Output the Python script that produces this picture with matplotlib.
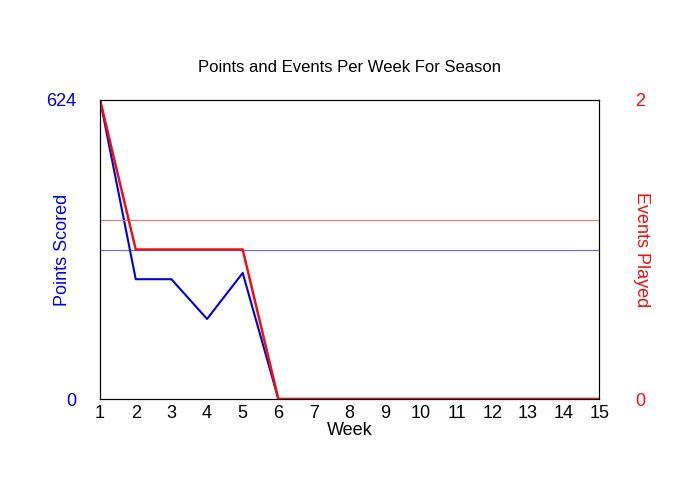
import matplotlib
matplotlib.use("Agg")
import matplotlib.pyplot as plt

weeks = list(range(1, 16))
points = [624, 250, 250, 167, 263, 0, 0, 0, 0, 0, 0, 0, 0, 0, 0]
events = [2, 1, 1, 1, 1, 0, 0, 0, 0, 0, 0, 0, 0, 0, 0]
points_avg = 311
events_avg = 1.2

plt.rcParams['font.family'] = ['Liberation Sans', 'DejaVu Sans']

fig = plt.figure(figsize=(7, 5), dpi=100)
ax = fig.add_axes([0.143, 0.202, 0.713, 0.598])
ax2 = ax.twinx()

ax.axhline(points_avg, color='#6666ff', lw=0.8)
ax2.axhline(events_avg, color='#ee7777', lw=0.8)
ax.plot(weeks, points, color='#0000dd', lw=1.5)
ax2.plot(weeks, events, color='#ee1111', lw=1.8)

ax.set_xlim(1, 15)
ax.set_ylim(0, 624)
ax2.set_ylim(0, 2)
ax.set_xticks(weeks)
ax.set_yticks([0, 624])
ax2.set_yticks([0, 2])
ax.tick_params(axis='x', length=0, labelsize=13, pad=4)
ax.tick_params(axis='y', length=0, labelsize=13, labelcolor='#0000dd', pad=17)
ax2.tick_params(axis='y', length=0, labelsize=13, labelcolor='#ee1111', pad=26)

ax.set_xlabel('Week', fontsize=13, labelpad=0)
ax.set_ylabel('Points Scored', fontsize=13, color='#0000dd', labelpad=-18)
ax2.set_ylabel('Events Played', fontsize=13, color='#ee1111', rotation=270, labelpad=3)
ax.set_title('Points and Events Per Week For Season', fontsize=12, pad=20)

fig.savefig('out.png')
